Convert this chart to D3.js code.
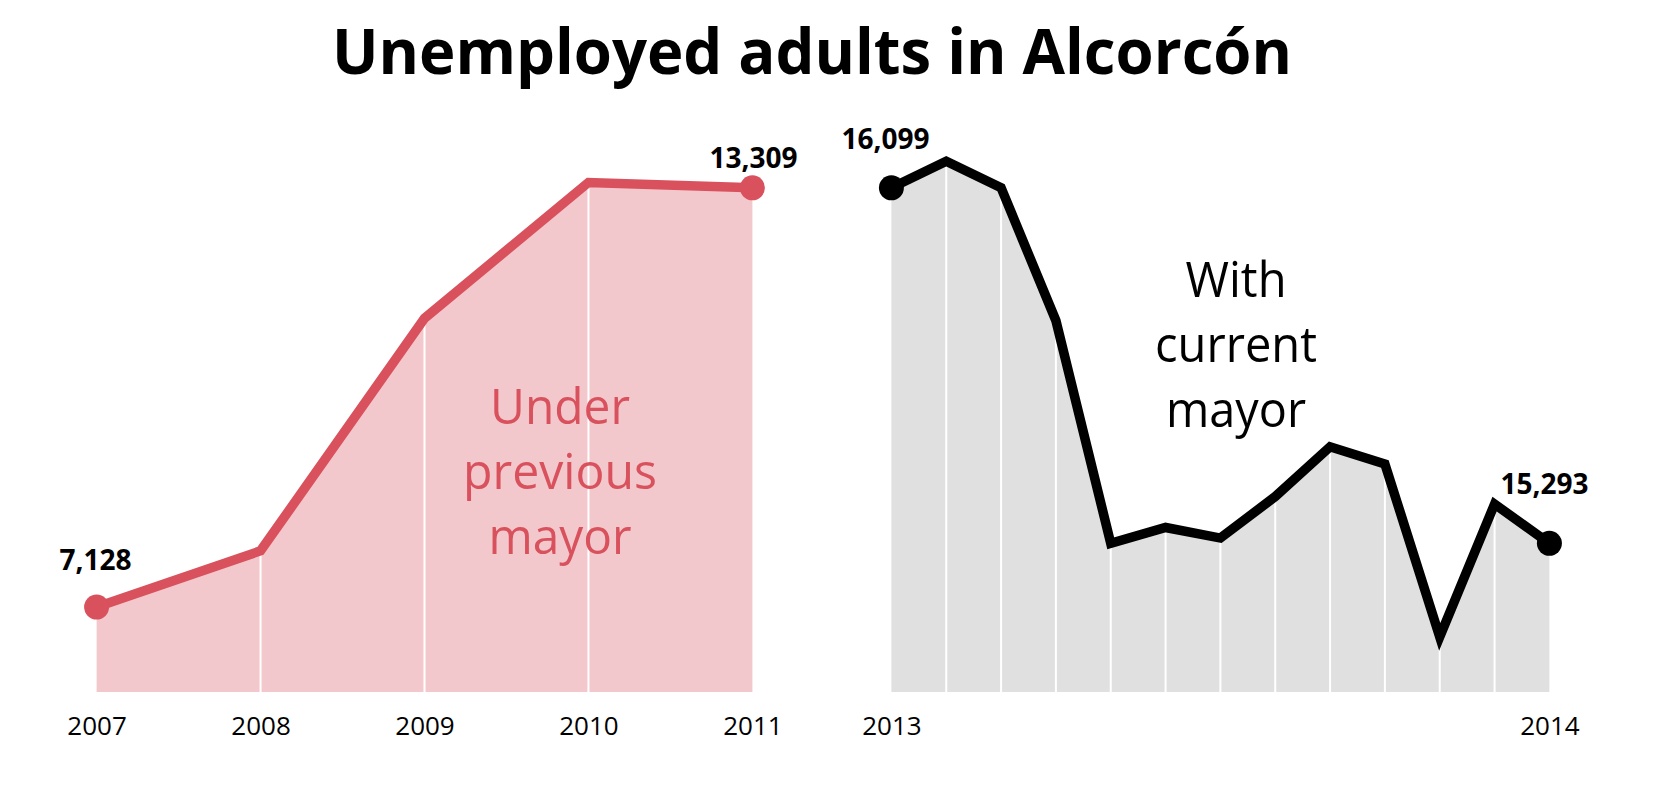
<!DOCTYPE html>
<html>
<head>
<meta charset="utf-8">
<script src="https://cdn.jsdelivr.net/npm/d3@7"></script>
<style>
  html, body { margin: 0; padding: 0; background: #fff; }
  svg { display: block; }
</style>
</head>
<body>
<svg id="chart" width="1664" height="802"></svg>
<script>
// ---- data ----
const prevYears = ["2007", "2008", "2009", "2010", "2011"];
const prevValues = [7128, 7957, 11385, 13388, 13309];
const currMonths = ["2013-01","2013-02","2013-03","2013-04","2013-05","2013-06","2013-07","2013-08","2013-09","2013-10","2013-11","2013-12","2014-01"];
const currValues = [16099, 16159, 16099, 15798, 15293, 15329, 15305, 15399, 15512, 15473, 15081, 15382, 15293];
const currTickLabels = ["2013", "2014"];
const prevLabelLines = ["Under", "previous", "mayor"];
const currLabelLines = ["With", "current", "mayor"];
const titleText = "Unemployed adults in Alcorcón";

// ---- styles ----
const red = "#d8515d", pink = "#f3c8cc", gray = "#e0e0e0", black = "#000";
const baseY = 692, topY = 187.8;
const svg = d3.select("#chart");
const fmt = d3.format(",");

svg.append("text")
  .attr("x", 812).attr("y", 74)
  .attr("text-anchor", "middle")
  .attr("font-family", "Open Sans, sans-serif")
  .attr("font-weight", 700)
  .attr("font-size", 62)
  .attr("textLength", 960).attr("lengthAdjust", "spacingAndGlyphs")
  .text(titleText);

function panel(cfg) {
  const x = d3.scaleLinear().domain([0, cfg.values.length - 1]).range(cfg.xRange);
  const y = d3.scaleLinear().domain(cfg.yDomain).range([baseY, topY]);
  const g = svg.append("g");
  const area = d3.area().x((d, i) => x(i)).y0(baseY).y1(d => y(d));
  const line = d3.line().x((d, i) => x(i)).y(d => y(d));
  g.append("path").datum(cfg.values).attr("d", area).attr("fill", cfg.fill);
  g.selectAll("line.grid").data(cfg.values.slice(1, -1)).join("line")
    .attr("class", "grid")
    .attr("x1", (d, i) => x(i + 1)).attr("x2", (d, i) => x(i + 1))
    .attr("y1", d => y(d)).attr("y2", baseY)
    .attr("stroke", "#fff").attr("stroke-width", 2);
  g.append("path").datum(cfg.values).attr("d", line)
    .attr("fill", "none").attr("stroke", cfg.stroke)
    .attr("stroke-width", 9.5).attr("stroke-linejoin", "miter");
  const ends = [0, cfg.values.length - 1];
  g.selectAll("circle").data(ends).join("circle")
    .attr("cx", i => x(i)).attr("cy", i => y(cfg.values[i]))
    .attr("r", 12.5).attr("fill", cfg.stroke);
  g.selectAll("text.val").data(ends).join("text")
    .attr("class", "val")
    .attr("x", (i, k) => x(i) + cfg.valDx[k])
    .attr("y", (i, k) => y(cfg.values[i]) + cfg.valDy[k])
    .attr("text-anchor", "middle")
    .attr("font-family", "Open Sans, sans-serif")
    .attr("font-weight", 700).attr("font-size", 28)
    .text(i => fmt(cfg.values[i]));
  // axis
  const axis = d3.axisBottom(x).tickValues(cfg.tickIdx)
    .tickFormat((d, i) => cfg.tickLabels[i]).tickSize(0).tickPadding(0);
  const ag = g.append("g").attr("transform", `translate(0,${baseY + 43})`).call(axis);
  ag.select(".domain").remove();
  ag.selectAll("text")
    .attr("dy", 0)
    .attr("font-family", "Open Sans, sans-serif")
    .attr("font-size", 26).attr("fill", "#000");
  // annotation
  g.append("g").selectAll("text").data(cfg.label).join("text")
    .attr("x", cfg.labelX).attr("y", (d, i) => cfg.labelY + i * 65)
    .attr("text-anchor", "middle")
    .attr("font-family", "Open Sans, sans-serif")
    .attr("font-size", 50)
    .attr("fill", cfg.labelColor)
    .attr("textLength", (d, i) => cfg.labelW[i]).attr("lengthAdjust", "spacingAndGlyphs")
    .text(d => d);
}

panel({
  values: prevValues, xRange: [96.6, 752.4], yDomain: [5876, 13309],
  fill: pink, stroke: red,
  valDx: [-1, 1], valDy: [-37, -20],
  tickIdx: [0, 1, 2, 3, 4], tickLabels: prevYears,
  label: prevLabelLines, labelX: 560, labelY: 424, labelW: [140, 194, 143], labelColor: red
});
panel({
  values: currValues, xRange: [891.4, 1549.4], yDomain: [14956, 16099],
  fill: gray, stroke: black,
  valDx: [-6, -5], valDy: [-39, -49],
  tickIdx: [0, 12], tickLabels: currTickLabels,
  label: currLabelLines, labelX: 1236, labelY: 297, labelW: [101, 162, 140], labelColor: black
});
</script>
</body>
</html>
